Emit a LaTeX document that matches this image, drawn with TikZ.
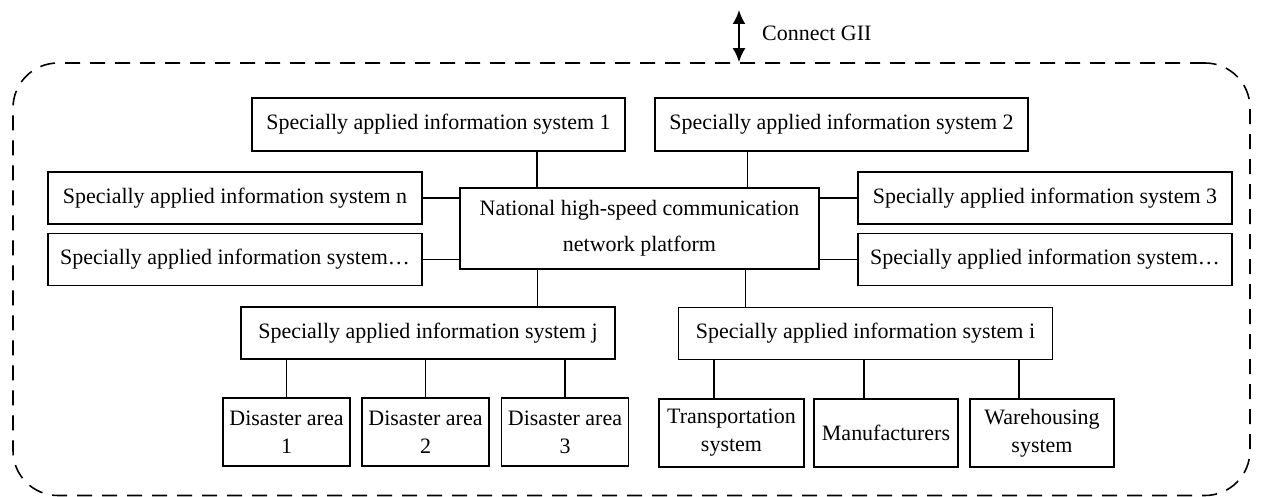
\documentclass[tikz,border=0pt]{standalone}
\usepackage{fontspec}
\setmainfont{Liberation Serif}
\usepackage{xcolor}
\usetikzlibrary{calc,arrows.meta}

\begin{document}
\begin{tikzpicture}[
        box/.style={draw, line width=0.9pt, minimum width=7.48cm, minimum height=1.04cm, align=center, font=\fontsize{12.5}{16}\selectfont},
        leaf/.style={box, minimum width=2.54cm, minimum height=1.36cm},
        hub/.style={box, minimum width=7.18cm, minimum height=1.62cm, font=\fontsize{12.5}{20.5}\selectfont},
        frame/.style={draw, line width=0.9pt, dash pattern=on 0.3cm off 0.2cm, rounded corners=0.9cm},
        link/.style={line width=0.9pt},
        biarrow/.style={line width=1.3pt, {Latex[length=0.28cm,width=0.26cm]}-{Latex[length=0.28cm,width=0.26cm]}}
    ]
        \useasboundingbox (0,0) rectangle (25.22,9.92);

        % outer dashed frame
        \node[frame, minimum width=24.74cm, minimum height=8.65cm] (net) at (12.63,4.335) {};

        \coordinate (gii) at (14.78,9.72);
        \draw[biarrow] (gii) -- (gii |- net.north);
        \node[anchor=west, font=\fontsize{12.5}{15}\selectfont] (giitext) at (15.12,9.26) {Connect GII};

        \node[hub] (platform) at (12.79,5.35) {National high-speed communication\\network platform};

        \node[box, minimum width=7.46cm, minimum height=1.06cm] (sys1) at (8.77,7.43) {Specially applied information system 1};
        \node[box, minimum width=7.46cm, minimum height=1.06cm] (sys2) at (16.83,7.43) {Specially applied information system 2};
        \node[box] (sysn) at (4.70,5.96) {Specially applied information system n};
        \node[box] (sysdl) at (4.70,4.73) {Specially applied information system\dots};
        \node[box] (sys3) at (20.90,5.96) {Specially applied information system 3};
        \node[box] (sysdr) at (20.90,4.73) {Specially applied information system\dots};
        \node[box] (sysj) at (8.56,3.26) {Specially applied information system j};
        \node[box] (sysi) at (17.31,3.25) {Specially applied information system i};

        \node[leaf] (da1) at (5.73,1.28) {Disaster area\\1};
        \node[leaf] (da2) at (8.51,1.28) {Disaster area\\2};
        \node[leaf] (da3) at (11.30,1.28) {Disaster area\\3};
        \node[leaf, minimum width=2.90cm] (trans) at (14.63,1.26) {Transportation\\system};
        \node[leaf, minimum width=2.88cm] (manuf) at (17.72,1.26) {Manufacturers};
        \node[leaf, minimum width=2.88cm] (wareh) at (20.84,1.26) {Warehousing\\system};

        % links to the platform
        \coordinate (pt1) at ($(platform.north west)!.215!(platform.north east)$);
        \coordinate (pt2) at ($(platform.north west)!.80!(platform.north east)$);
        \coordinate (pb1) at ($(platform.south west)!.217!(platform.south east)$);
        \coordinate (pb2) at ($(platform.south west)!.794!(platform.south east)$);
        \draw[link] (pt1) -- (pt1 |- sys1.south);
        \draw[link] (pt2) -- (pt2 |- sys2.south);
        \draw[link] (pb1) -- (pb1 |- sysj.north);
        \draw[link] (pb2) -- (pb2 |- sysi.north);
        \draw[link] (sysn.east) -- (sysn.east -| platform.west);
        \draw[link] (sysdl.east) -- (sysdl.east -| platform.west);
        \draw[link] (sys3.west) -- (sys3.west -| platform.east);
        \draw[link] (sysdr.west) -- (sysdr.west -| platform.east);

        % links to the leaves
        \draw[link] (da1.north) -- (da1.north |- sysj.south);
        \draw[link] (da2.north) -- (da2.north |- sysj.south);
        \draw[link] (da3.north) -- (da3.north |- sysj.south);
        \draw[link] ([xshift=-0.35cm]trans.north) -- ([xshift=-0.35cm]trans.north |- sysi.south);
        \draw[link] ([xshift=-0.44cm]manuf.north) -- ([xshift=-0.44cm]manuf.north |- sysi.south);
        \draw[link] ([xshift=-0.46cm]wareh.north) -- ([xshift=-0.46cm]wareh.north |- sysi.south);
    \end{tikzpicture}
\end{document}
